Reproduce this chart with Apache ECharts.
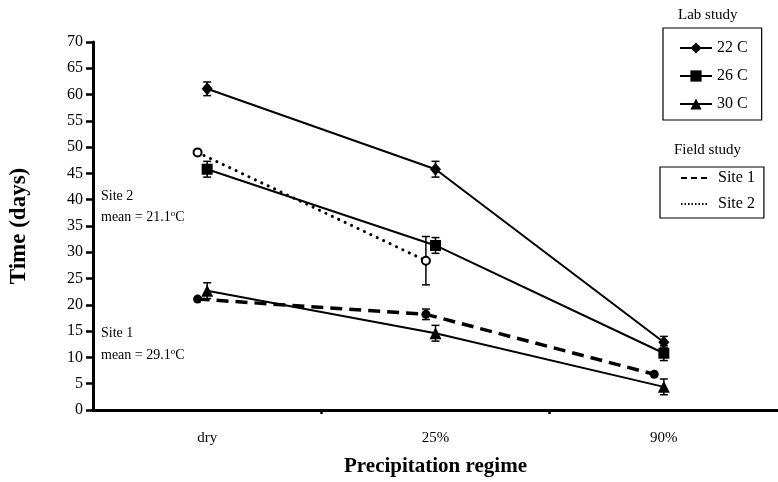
<!DOCTYPE html>
<html><head><meta charset="utf-8">
<script src="https://cdn.jsdelivr.net/npm/echarts@6/dist/echarts.min.js"></script>
<style>html,body{margin:0;padding:0;background:#fff}#c{width:778px;height:482px}</style>
</head><body><div id="c"></div>
<script>
const categories = ['dry', '25%', '90%'];
const yTicks = [0, 5, 10, 15, 20, 25, 30, 35, 40, 45, 50, 55, 60, 65, 70];

const lab22 = [61.1, 45.8, 12.9];
const lab22Err = [1.3, 1.5, 1.1];
const lab26 = [45.8, 31.3, 10.8];
const lab26Err = [1.5, 1.5, 1.4];
const lab30 = [22.7, 14.6, 4.4];
const lab30Err = [1.5, 1.5, 1.5];
const site1 = [21.1, 18.2, 6.8];
const site1Err = [0, 1.0, 0];
const site2 = [49.0, 28.4];
const site2Err = [0, 4.6];

const FONT = '"Liberation Serif", "Times New Roman", serif';
const FIELD_SHIFT = -0.042;

function pts(vals, shift) { return vals.map((v, i) => [i + 0.5 + shift, v]); }
function errs(vals, e, shift) {
  const out = [];
  vals.forEach((v, i) => { if (e[i] > 0) out.push([i + 0.5 + shift, v - e[i], v + e[i]]); });
  return out;
}
function errRender(params, api) {
  const x = api.value(0), lo = api.value(1), hi = api.value(2);
  const a = api.coord([x, hi]), b = api.coord([x, lo]);
  const hw = 4, st = { stroke: '#000', lineWidth: 1.5 };
  return { type: 'group', children: [
    { type: 'line', shape: { x1: a[0], y1: a[1], x2: b[0], y2: b[1] }, style: st },
    { type: 'line', shape: { x1: a[0] - hw, y1: a[1], x2: a[0] + hw, y2: a[1] }, style: st },
    { type: 'line', shape: { x1: b[0] - hw, y1: b[1], x2: b[0] + hw, y2: b[1] }, style: st }
  ]};
}
const allErr = [].concat(
  errs(lab22, lab22Err, 0), errs(lab26, lab26Err, 0), errs(lab30, lab30Err, 0),
  errs(site1, site1Err, FIELD_SHIFT), errs(site2, site2Err, FIELD_SHIFT));

const solid = { color: '#000', width: 2 };
const supRich = { s: { fontSize: 9, fontFamily: FONT, verticalAlign: 'top', padding: [0, 0, 8, 0] } };
const chart = echarts.init(document.getElementById('c'));
chart.setOption({
  animation: false,
  textStyle: { fontFamily: FONT, color: '#000' },
  grid: { left: 87, right: 0, top: 42, bottom: 68.5 },
  xAxis: {
    type: 'value', min: 0, max: categories.length,
    name: 'Precipitation regime', nameLocation: 'middle', nameGap: 46,
    nameTextStyle: { fontFamily: FONT, fontWeight: 'bold', fontSize: 21, color: '#000' },
    axisLine: { lineStyle: { color: '#000', width: 3 } },
    axisTick: { show: true, inside: false, length: 4, lineStyle: { color: '#000', width: 2.5 },
      customValues: categories.slice(1).map((c, i) => i + 1) },
    axisLabel: { fontFamily: FONT, fontSize: 15, color: '#000', margin: 21,
      customValues: categories.map((c, i) => i + 0.5),
      formatter: v => categories[Math.round(v - 0.5)] },
    splitLine: { show: false }
  },
  yAxis: {
    type: 'value', min: 0, max: 70, interval: 5,
    name: 'Time (days)', nameLocation: 'middle', nameGap: 62, nameRotate: 90,
    nameTextStyle: { fontFamily: FONT, fontWeight: 'bold', fontSize: 23, color: '#000' },
    axisLine: { show: true, lineStyle: { color: '#000', width: 3 } },
    axisTick: { show: true, inside: false, length: 7, lineStyle: { color: '#000', width: 2.5 } },
    axisLabel: { fontFamily: FONT, fontSize: 16, color: '#000', margin: 10,
      formatter: v => (yTicks.indexOf(v) >= 0 ? String(v) : '') },
    splitLine: { show: false }
  },
  legend: [
    { data: ['22 C', '26 C', '30 C'], orient: 'vertical', left: 663, top: 28,
      padding: [12, 14, 8, 16], itemGap: 12, itemWidth: 32, itemHeight: 14,
      borderColor: '#000', borderWidth: 1.2,
      textStyle: { fontFamily: FONT, fontSize: 16, color: '#000' } },
    { data: ['Site 1', 'Site 2'], orient: 'vertical', left: 660, top: 167,
      padding: [3, 9, 6, 20], itemGap: 10, itemWidth: 28, itemHeight: 12,
      borderColor: '#000', borderWidth: 1.2, itemStyle: { opacity: 0 },
      textStyle: { fontFamily: FONT, fontSize: 16, color: '#000', padding: [0, 0, 0, 4] } }
  ],
  graphic: [
    { type: 'text', left: 678, top: 8, style: { text: 'Lab study', font: '15px ' + FONT, fill: '#000' } },
    { type: 'text', left: 674, top: 143, style: { text: 'Field study', font: '15px ' + FONT, fill: '#000' } },
    { type: 'text', left: 101, top: 189, style: { text: 'Site 2', font: '14px ' + FONT, fill: '#000' } },
    { type: 'text', left: 101, top: 209, style: { text: 'mean = 21.1{s|o}C', font: '14px ' + FONT, fill: '#000', rich: supRich } },
    { type: 'text', left: 101, top: 326, style: { text: 'Site 1', font: '14px ' + FONT, fill: '#000' } },
    { type: 'text', left: 101, top: 347, style: { text: 'mean = 29.1{s|o}C', font: '14px ' + FONT, fill: '#000', rich: supRich } }
  ],
  series: [
    { type: 'custom', name: 'err', renderItem: errRender, data: allErr, z: 3, silent: true },
    { type: 'line', name: '22 C', data: pts(lab22, 0), symbol: 'diamond', symbolSize: [11, 13],
      itemStyle: { color: '#000' }, lineStyle: solid, z: 4 },
    { type: 'line', name: '26 C', data: pts(lab26, 0), symbol: 'rect', symbolSize: 11,
      itemStyle: { color: '#000' }, lineStyle: solid, z: 4 },
    { type: 'line', name: '30 C', data: pts(lab30, 0), symbol: 'triangle', symbolSize: 12,
      itemStyle: { color: '#000' }, lineStyle: solid, z: 4 },
    { type: 'line', name: 'site1pts', data: pts(site1, FIELD_SHIFT), symbol: 'circle', symbolSize: 9,
      itemStyle: { color: '#000' }, lineStyle: { color: '#000', width: 3.5, type: [12, 7] }, z: 4 },
    { type: 'line', name: 'site2pts', data: pts(site2, FIELD_SHIFT), symbol: 'circle', symbolSize: 8,
      itemStyle: { color: '#fff', borderColor: '#000', borderWidth: 2 },
      lineStyle: { color: '#000', width: 3, type: [0.1, 7], cap: 'round' }, z: 4 },
    { type: 'line', name: 'Site 1', data: [], symbol: 'none',
      itemStyle: { color: '#000' }, lineStyle: { color: '#000', width: 2.5, type: [6, 4] } },
    { type: 'line', name: 'Site 2', data: [], symbol: 'none',
      itemStyle: { color: '#000' }, lineStyle: { color: '#000', width: 1.5, type: [1.5, 2] } }
  ]
});
</script></body></html>
